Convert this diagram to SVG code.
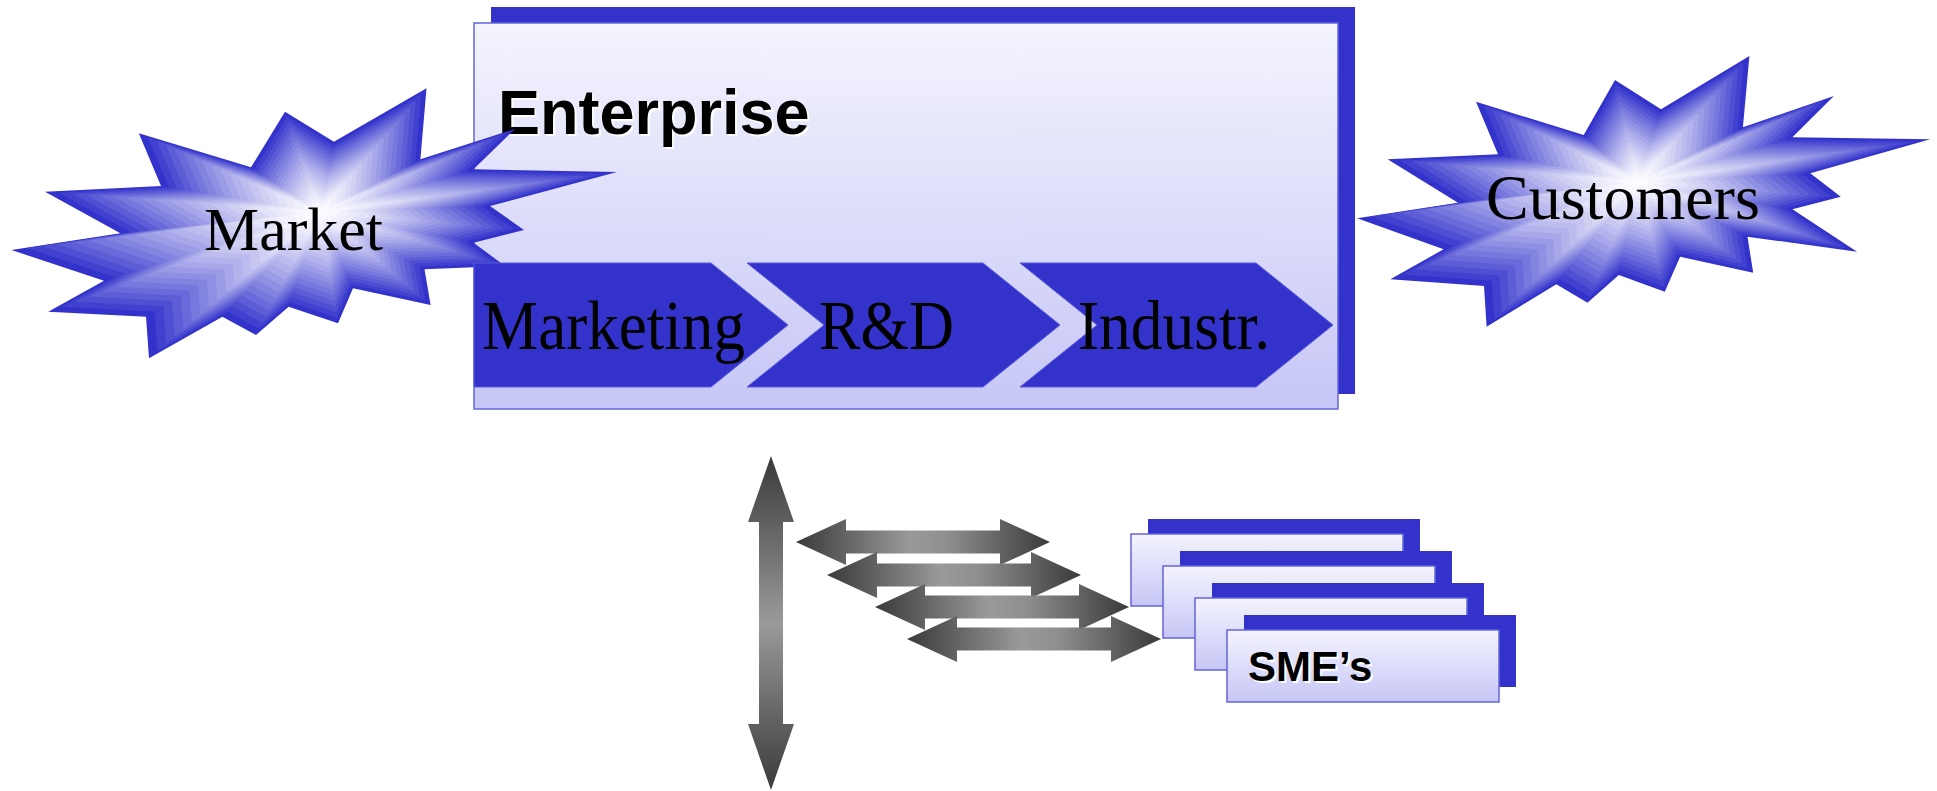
<svg xmlns="http://www.w3.org/2000/svg" xmlns:xlink="http://www.w3.org/1999/xlink" width="1937" height="791" viewBox="0 0 1937 791">
<style>
.serif{font-family:"Liberation Serif","Times New Roman",serif;fill:#000}
.bold{font-family:"Liberation Sans",Arial,sans-serif;font-weight:bold}
.back{fill:#3333cc}
.panel{fill:url(#panelGrad);stroke:#6464dd;stroke-width:1.5}
.chev{fill:#3333cc;stroke:#5a5ae0;stroke-width:1}
.ws{fill:#ffffff}
.k{fill:#000000}
.b0{fill:#3333cc}.b1{fill:#4141d0}.b2{fill:#4f4fd3}.b3{fill:#5d5dd6}.b4{fill:#6a6ada}
.b5{fill:#7777dd}.b6{fill:#8383e0}.b7{fill:#8f8fe3}.b8{fill:#9b9be6}.b9{fill:#a7a7e9}
.b10{fill:#b2b2ec}.b11{fill:#bcbcee}.b12{fill:#c6c6f1}.b13{fill:#d0d0f3}.b14{fill:#d9d9f6}
.b15{fill:#e2e2f8}.b16{fill:#eaeafa}.b17{fill:#f1f1fb}.b18{fill:#f7f7fd}.b19{fill:#fcfcfe}
</style>
<defs>
<linearGradient id="panelGrad" x1="0" y1="0" x2="0" y2="1">
<stop offset="0" stop-color="#f4f4fe"/>
<stop offset="1" stop-color="#c6c6f6"/>
</linearGradient>
<linearGradient id="hGrad" x1="0" y1="0" x2="1" y2="0">
<stop offset="0" stop-color="#3a3a3a"/>
<stop offset="0.45" stop-color="#9a9a9a"/>
<stop offset="0.6" stop-color="#8e8e8e"/>
<stop offset="1" stop-color="#3a3a3a"/>
</linearGradient>
<linearGradient id="vGrad" x1="0" y1="0" x2="0" y2="1">
<stop offset="0" stop-color="#3a3a3a"/>
<stop offset="0.5" stop-color="#9a9a9a"/>
<stop offset="1" stop-color="#3a3a3a"/>
</linearGradient>
<path id="harrow" d="M0,0 L50,-23 L50,-11.5 L204,-11.5 L204,-23 L254,0 L204,23 L204,11.5 L50,11.5 L50,23 Z" fill="url(#hGrad)"/>
<polygon id="mkShape" points="106.5,-123.7 100.4,-52.7 195,-83 153.5,-42.7 297,-40 170,-6 204,18 153.5,30.7 185,54 104.5,57.3 110.6,93 33,76.3 18,111.3 -31.4,94.7 -64,123 -97.6,104.7 -171,146.3 -174,104.7 -271.8,99.7 -216,68.7 -308.6,38 -199.6,21.3 -275,-20.3 -159,-26 -181.2,-78.7 -69,-44.7 -35,-100.3 13.9,-70.3"/>
<polygon id="csShape" points="111.4,-126 104.9,-54.7 195.9,-86 154.4,-44.7 292.2,-42.7 172.3,-8.7 202.8,14.7 154.4,27.3 219.1,69.7 109.5,54.7 115.2,90.7 42.1,74.7 26.8,109.7 -19.2,93 -50.5,120.7 -81.7,102.3 -151.4,144.7 -154,104 -247.7,97.3 -194.4,67.3 -280.9,36.3 -180,20.7 -250.4,-22.7 -140,-27.7 -162,-80.3 -54.3,-47 -23,-102 23,-72.7"/>
</defs>

<g id="enterprise">
<rect class="back" x="491" y="7" width="864" height="387"/>
<rect class="panel" x="474" y="23" width="864" height="386"/>
<text class="bold ws" x="500" y="136" font-size="63">Enterprise</text>
<text class="bold k" x="498" y="134" font-size="63">Enterprise</text>
</g>

<g id="market" transform="translate(320,212)">
<use xlink:href="#mkShape" class="b0"/>
<use xlink:href="#mkShape" class="b1" transform="scale(0.95)"/>
<use xlink:href="#mkShape" class="b2" transform="scale(0.9)"/>
<use xlink:href="#mkShape" class="b3" transform="scale(0.85)"/>
<use xlink:href="#mkShape" class="b4" transform="scale(0.8)"/>
<use xlink:href="#mkShape" class="b5" transform="scale(0.75)"/>
<use xlink:href="#mkShape" class="b6" transform="scale(0.7)"/>
<use xlink:href="#mkShape" class="b7" transform="scale(0.65)"/>
<use xlink:href="#mkShape" class="b8" transform="scale(0.6)"/>
<use xlink:href="#mkShape" class="b9" transform="scale(0.55)"/>
<use xlink:href="#mkShape" class="b10" transform="scale(0.5)"/>
<use xlink:href="#mkShape" class="b11" transform="scale(0.45)"/>
<use xlink:href="#mkShape" class="b12" transform="scale(0.4)"/>
<use xlink:href="#mkShape" class="b13" transform="scale(0.35)"/>
<use xlink:href="#mkShape" class="b14" transform="scale(0.3)"/>
<use xlink:href="#mkShape" class="b15" transform="scale(0.25)"/>
<use xlink:href="#mkShape" class="b16" transform="scale(0.2)"/>
<use xlink:href="#mkShape" class="b17" transform="scale(0.15)"/>
<use xlink:href="#mkShape" class="b18" transform="scale(0.1)"/>
<use xlink:href="#mkShape" class="b19" transform="scale(0.05)"/>
<text class="serif" x="-116" y="38" font-size="62">Market</text>
</g>

<g id="chevrons">
<g id="marketing">
<polygon class="chev" points="474,263 711,263 788,325 711,387 474,387"/>
<text class="serif" x="482" y="349" font-size="70" textLength="263" lengthAdjust="spacingAndGlyphs">Marketing</text>
</g>
<g id="rnd">
<polygon class="chev" points="747,263 983,263 1060,325 983,387 747,387 824,325"/>
<text class="serif" x="819" y="349" font-size="70" textLength="135" lengthAdjust="spacingAndGlyphs">R&amp;D</text>
</g>
<g id="industr">
<polygon class="chev" points="1020,263 1256,263 1333,325 1256,387 1020,387 1097,325"/>
<text class="serif" x="1078" y="349" font-size="70" textLength="192" lengthAdjust="spacingAndGlyphs">Industr.</text>
</g>
</g>

<g id="customers" transform="translate(1638,182)">
<use xlink:href="#csShape" class="b0"/>
<use xlink:href="#csShape" class="b1" transform="scale(0.95)"/>
<use xlink:href="#csShape" class="b2" transform="scale(0.9)"/>
<use xlink:href="#csShape" class="b3" transform="scale(0.85)"/>
<use xlink:href="#csShape" class="b4" transform="scale(0.8)"/>
<use xlink:href="#csShape" class="b5" transform="scale(0.75)"/>
<use xlink:href="#csShape" class="b6" transform="scale(0.7)"/>
<use xlink:href="#csShape" class="b7" transform="scale(0.65)"/>
<use xlink:href="#csShape" class="b8" transform="scale(0.6)"/>
<use xlink:href="#csShape" class="b9" transform="scale(0.55)"/>
<use xlink:href="#csShape" class="b10" transform="scale(0.5)"/>
<use xlink:href="#csShape" class="b11" transform="scale(0.45)"/>
<use xlink:href="#csShape" class="b12" transform="scale(0.4)"/>
<use xlink:href="#csShape" class="b13" transform="scale(0.35)"/>
<use xlink:href="#csShape" class="b14" transform="scale(0.3)"/>
<use xlink:href="#csShape" class="b15" transform="scale(0.25)"/>
<use xlink:href="#csShape" class="b16" transform="scale(0.2)"/>
<use xlink:href="#csShape" class="b17" transform="scale(0.15)"/>
<use xlink:href="#csShape" class="b18" transform="scale(0.1)"/>
<use xlink:href="#csShape" class="b19" transform="scale(0.05)"/>
<text class="serif" x="-152" y="37" font-size="64">Customers</text>
</g>

<g id="connectors">
<path fill="url(#vGrad)" d="M771,456 L794,522 L783,522 L783,724 L794,724 L771,790 L748,724 L759,724 L759,522 L748,522 Z"/>
<use xlink:href="#harrow" transform="translate(796,542)"/>
<use xlink:href="#harrow" transform="translate(827,575)"/>
<use xlink:href="#harrow" transform="translate(875,607)"/>
<use xlink:href="#harrow" transform="translate(907,639)"/>
</g>

<g id="smes">
<g id="sme1">
<rect class="back" x="1148" y="519" width="272" height="72"/>
<rect class="panel" x="1131" y="534" width="272" height="72"/>
</g>
<g id="sme2">
<rect class="back" x="1180" y="551" width="272" height="72"/>
<rect class="panel" x="1163" y="566" width="272" height="72"/>
</g>
<g id="sme3">
<rect class="back" x="1212" y="583" width="272" height="72"/>
<rect class="panel" x="1195" y="598" width="272" height="72"/>
</g>
<g id="sme4">
<rect class="back" x="1244" y="615" width="272" height="72"/>
<rect class="panel" x="1227" y="630" width="272" height="72"/>
<text class="bold ws" x="1250" y="683" font-size="42">SME’s</text>
<text class="bold k" x="1248" y="681" font-size="42">SME’s</text>
</g>
</g>
</svg>
